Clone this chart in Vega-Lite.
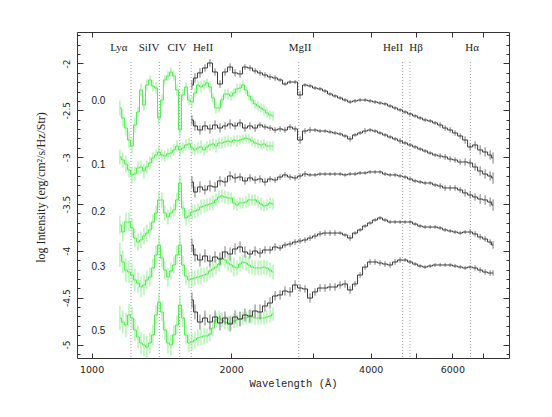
{
"$schema": "https://vega.github.io/schema/vega-lite/v6.json",
"width": 432, "height": 326,
"autosize": "none",
"padding": {"left": 77, "top": 32, "right": 43, "bottom": 59},
"background": "white",
"config": {"view": {"stroke": "#333", "strokeWidth": 1}, "axis": {"domain": false, "grid": false, "tickColor": "#333", "tickWidth": 1, "labelColor": "#222", "titleColor": "#222"}},
"resolve": {"axis": {"x": "independent", "y": "independent"}},
"datasets": {
"lines": [{"n":"Lyα","w":1216,"lw":1145},{"n":"SiIV","w":1400,"lw":1330},{"n":"CIV","w":1549,"lw":1528},{"n":"HeII","w":1640,"lw":1739},{"n":"MgII","w":2798,"lw":2816},{"n":"HeII","w":4686,"lw":4469},{"n":"Hβ","w":4861,"lw":5011},{"n":"Hα","w":6563,"lw":6618}],
"zlab": [{"z":"0.0","ly":-2.400},{"z":"0.1","ly":-3.084},{"z":"0.2","ly":-3.585},{"z":"0.3","ly":-4.173},{"z":"0.5","ly":-4.856}],
"green": [
{"z":"0.0","w":1151,"y":-2.475,"e":0.08},{"z":"0.0","w":1168,"y":-2.582,"e":0.09},{"z":"0.0","w":1186,"y":-2.689,"e":0.08},{"z":"0.0","w":1204,"y":-2.817,"e":0.09},{"z":"0.0","w":1222,"y":-2.881,"e":0.08},{"z":"0.0","w":1240,"y":-2.657,"e":0.08},{"z":"0.0","w":1259,"y":-2.518,"e":0.06},{"z":"0.0","w":1278,"y":-2.283,"e":0.07},{"z":"0.0","w":1297,"y":-2.443,"e":0.06},{"z":"0.0","w":1316,"y":-2.230,"e":0.06},{"z":"0.0","w":1336,"y":-2.176,"e":0.05},{"z":"0.0","w":1356,"y":-2.240,"e":0.06},{"z":"0.0","w":1377,"y":-2.262,"e":0.06},{"z":"0.0","w":1397,"y":-2.582,"e":0.07},{"z":"0.0","w":1418,"y":-2.390,"e":0.06},{"z":"0.0","w":1439,"y":-2.176,"e":0.05},{"z":"0.0","w":1461,"y":-2.133,"e":0.05},{"z":"0.0","w":1483,"y":-2.091,"e":0.05},{"z":"0.0","w":1505,"y":-2.133,"e":0.05},{"z":"0.0","w":1528,"y":-2.283,"e":0.06},{"z":"0.0","w":1551,"y":-2.710,"e":0.07},{"z":"0.0","w":1574,"y":-2.336,"e":0.06},{"z":"0.0","w":1598,"y":-2.251,"e":0.05},{"z":"0.0","w":1622,"y":-2.390,"e":0.06},{"z":"0.0","w":1646,"y":-2.411,"e":0.06},{"z":"0.0","w":1671,"y":-2.315,"e":0.05},{"z":"0.0","w":1696,"y":-2.230,"e":0.05},{"z":"0.0","w":1722,"y":-2.251,"e":0.06},{"z":"0.0","w":1748,"y":-2.230,"e":0.05},{"z":"0.0","w":1774,"y":-2.208,"e":0.05},{"z":"0.0","w":1800,"y":-2.251,"e":0.06},{"z":"0.0","w":1827,"y":-2.368,"e":0.05},{"z":"0.0","w":1855,"y":-2.475,"e":0.06},{"z":"0.0","w":1883,"y":-2.475,"e":0.05},{"z":"0.0","w":1911,"y":-2.390,"e":0.05},{"z":"0.0","w":1940,"y":-2.326,"e":0.05},{"z":"0.0","w":1969,"y":-2.326,"e":0.06},{"z":"0.0","w":1999,"y":-2.347,"e":0.05},{"z":"0.0","w":2028,"y":-2.315,"e":0.05},{"z":"0.0","w":2059,"y":-2.272,"e":0.06},{"z":"0.0","w":2090,"y":-2.262,"e":0.05},{"z":"0.0","w":2121,"y":-2.230,"e":0.05},{"z":"0.0","w":2153,"y":-2.283,"e":0.05},{"z":"0.0","w":2185,"y":-2.347,"e":0.05},{"z":"0.0","w":2218,"y":-2.390,"e":0.05},{"z":"0.0","w":2252,"y":-2.432,"e":0.05},{"z":"0.0","w":2285,"y":-2.454,"e":0.05},{"z":"0.0","w":2320,"y":-2.475,"e":0.05},{"z":"0.0","w":2354,"y":-2.496,"e":0.06},{"z":"0.0","w":2390,"y":-2.528,"e":0.05},{"z":"0.0","w":2426,"y":-2.550,"e":0.05},{"z":"0.0","w":2462,"y":-2.560,"e":0.05},
{"z":"0.1","w":1151,"y":-2.998,"e":0.08},{"z":"0.1","w":1168,"y":-3.030,"e":0.08},{"z":"0.1","w":1186,"y":-3.073,"e":0.09},{"z":"0.1","w":1204,"y":-3.137,"e":0.08},{"z":"0.1","w":1222,"y":-3.190,"e":0.09},{"z":"0.1","w":1240,"y":-3.180,"e":0.08},{"z":"0.1","w":1259,"y":-3.116,"e":0.07},{"z":"0.1","w":1278,"y":-3.105,"e":0.07},{"z":"0.1","w":1297,"y":-3.148,"e":0.08},{"z":"0.1","w":1316,"y":-3.105,"e":0.07},{"z":"0.1","w":1336,"y":-3.062,"e":0.07},{"z":"0.1","w":1356,"y":-3.009,"e":0.06},{"z":"0.1","w":1377,"y":-2.977,"e":0.06},{"z":"0.1","w":1397,"y":-2.945,"e":0.07},{"z":"0.1","w":1418,"y":-2.977,"e":0.06},{"z":"0.1","w":1439,"y":-2.988,"e":0.06},{"z":"0.1","w":1461,"y":-2.966,"e":0.06},{"z":"0.1","w":1483,"y":-2.956,"e":0.06},{"z":"0.1","w":1505,"y":-2.923,"e":0.06},{"z":"0.1","w":1528,"y":-2.881,"e":0.06},{"z":"0.1","w":1551,"y":-2.923,"e":0.07},{"z":"0.1","w":1574,"y":-2.902,"e":0.06},{"z":"0.1","w":1598,"y":-2.870,"e":0.06},{"z":"0.1","w":1622,"y":-2.859,"e":0.06},{"z":"0.1","w":1646,"y":-2.902,"e":0.07},{"z":"0.1","w":1671,"y":-2.923,"e":0.06},{"z":"0.1","w":1696,"y":-2.902,"e":0.06},{"z":"0.1","w":1722,"y":-2.891,"e":0.07},{"z":"0.1","w":1748,"y":-2.923,"e":0.06},{"z":"0.1","w":1774,"y":-2.891,"e":0.06},{"z":"0.1","w":1800,"y":-2.870,"e":0.06},{"z":"0.1","w":1827,"y":-2.859,"e":0.06},{"z":"0.1","w":1855,"y":-2.881,"e":0.07},{"z":"0.1","w":1883,"y":-2.849,"e":0.06},{"z":"0.1","w":1911,"y":-2.849,"e":0.06},{"z":"0.1","w":1940,"y":-2.838,"e":0.06},{"z":"0.1","w":1969,"y":-2.827,"e":0.06},{"z":"0.1","w":1999,"y":-2.838,"e":0.05},{"z":"0.1","w":2028,"y":-2.817,"e":0.05},{"z":"0.1","w":2059,"y":-2.827,"e":0.06},{"z":"0.1","w":2090,"y":-2.817,"e":0.05},{"z":"0.1","w":2121,"y":-2.806,"e":0.05},{"z":"0.1","w":2153,"y":-2.795,"e":0.05},{"z":"0.1","w":2185,"y":-2.806,"e":0.05},{"z":"0.1","w":2218,"y":-2.827,"e":0.05},{"z":"0.1","w":2252,"y":-2.849,"e":0.05},{"z":"0.1","w":2285,"y":-2.859,"e":0.05},{"z":"0.1","w":2320,"y":-2.870,"e":0.05},{"z":"0.1","w":2354,"y":-2.859,"e":0.05},{"z":"0.1","w":2390,"y":-2.881,"e":0.05},{"z":"0.1","w":2426,"y":-2.881,"e":0.05},{"z":"0.1","w":2462,"y":-2.881,"e":0.05},
{"z":"0.2","w":1151,"y":-3.724,"e":0.1},{"z":"0.2","w":1168,"y":-3.799,"e":0.1},{"z":"0.2","w":1186,"y":-3.692,"e":0.1},{"z":"0.2","w":1204,"y":-3.692,"e":0.1},{"z":"0.2","w":1222,"y":-3.756,"e":0.1},{"z":"0.2","w":1240,"y":-3.863,"e":0.1},{"z":"0.2","w":1259,"y":-3.906,"e":0.09},{"z":"0.2","w":1278,"y":-3.884,"e":0.09},{"z":"0.2","w":1297,"y":-3.842,"e":0.09},{"z":"0.2","w":1316,"y":-3.810,"e":0.09},{"z":"0.2","w":1336,"y":-3.777,"e":0.08},{"z":"0.2","w":1356,"y":-3.692,"e":0.08},{"z":"0.2","w":1377,"y":-3.596,"e":0.08},{"z":"0.2","w":1397,"y":-3.457,"e":0.09},{"z":"0.2","w":1418,"y":-3.457,"e":0.08},{"z":"0.2","w":1439,"y":-3.596,"e":0.08},{"z":"0.2","w":1461,"y":-3.639,"e":0.08},{"z":"0.2","w":1483,"y":-3.596,"e":0.07},{"z":"0.2","w":1505,"y":-3.564,"e":0.07},{"z":"0.2","w":1528,"y":-3.457,"e":0.08},{"z":"0.2","w":1551,"y":-3.276,"e":0.09},{"z":"0.2","w":1574,"y":-3.543,"e":0.08},{"z":"0.2","w":1598,"y":-3.649,"e":0.08},{"z":"0.2","w":1622,"y":-3.628,"e":0.07},{"z":"0.2","w":1646,"y":-3.585,"e":0.08},{"z":"0.2","w":1671,"y":-3.575,"e":0.07},{"z":"0.2","w":1696,"y":-3.564,"e":0.07},{"z":"0.2","w":1722,"y":-3.532,"e":0.08},{"z":"0.2","w":1748,"y":-3.521,"e":0.07},{"z":"0.2","w":1774,"y":-3.511,"e":0.07},{"z":"0.2","w":1800,"y":-3.500,"e":0.07},{"z":"0.2","w":1827,"y":-3.489,"e":0.08},{"z":"0.2","w":1855,"y":-3.457,"e":0.07},{"z":"0.2","w":1883,"y":-3.425,"e":0.07},{"z":"0.2","w":1911,"y":-3.414,"e":0.07},{"z":"0.2","w":1940,"y":-3.425,"e":0.07},{"z":"0.2","w":1969,"y":-3.436,"e":0.07},{"z":"0.2","w":1999,"y":-3.436,"e":0.06},{"z":"0.2","w":2028,"y":-3.489,"e":0.07},{"z":"0.2","w":2059,"y":-3.511,"e":0.06},{"z":"0.2","w":2090,"y":-3.489,"e":0.06},{"z":"0.2","w":2121,"y":-3.489,"e":0.06},{"z":"0.2","w":2153,"y":-3.479,"e":0.06},{"z":"0.2","w":2185,"y":-3.457,"e":0.07},{"z":"0.2","w":2218,"y":-3.457,"e":0.06},{"z":"0.2","w":2252,"y":-3.457,"e":0.06},{"z":"0.2","w":2285,"y":-3.479,"e":0.06},{"z":"0.2","w":2320,"y":-3.500,"e":0.07},{"z":"0.2","w":2354,"y":-3.521,"e":0.06},{"z":"0.2","w":2390,"y":-3.511,"e":0.06},{"z":"0.2","w":2426,"y":-3.489,"e":0.06},{"z":"0.2","w":2462,"y":-3.500,"e":0.06},
{"z":"0.3","w":1151,"y":-4.044,"e":0.13},{"z":"0.3","w":1168,"y":-4.119,"e":0.12},{"z":"0.3","w":1186,"y":-4.205,"e":0.13},{"z":"0.3","w":1204,"y":-4.226,"e":0.12},{"z":"0.3","w":1222,"y":-4.258,"e":0.12},{"z":"0.3","w":1240,"y":-4.311,"e":0.12},{"z":"0.3","w":1259,"y":-4.343,"e":0.11},{"z":"0.3","w":1278,"y":-4.386,"e":0.11},{"z":"0.3","w":1297,"y":-4.365,"e":0.11},{"z":"0.3","w":1316,"y":-4.311,"e":0.1},{"z":"0.3","w":1336,"y":-4.279,"e":0.1},{"z":"0.3","w":1356,"y":-4.183,"e":0.1},{"z":"0.3","w":1377,"y":-4.044,"e":0.1},{"z":"0.3","w":1397,"y":-3.938,"e":0.11},{"z":"0.3","w":1418,"y":-4.077,"e":0.1},{"z":"0.3","w":1439,"y":-4.205,"e":0.1},{"z":"0.3","w":1461,"y":-4.279,"e":0.1},{"z":"0.3","w":1483,"y":-4.215,"e":0.09},{"z":"0.3","w":1505,"y":-4.151,"e":0.09},{"z":"0.3","w":1528,"y":-4.044,"e":0.1},{"z":"0.3","w":1551,"y":-3.938,"e":0.11},{"z":"0.3","w":1574,"y":-4.151,"e":0.1},{"z":"0.3","w":1598,"y":-4.269,"e":0.09},{"z":"0.3","w":1622,"y":-4.311,"e":0.09},{"z":"0.3","w":1646,"y":-4.301,"e":0.09},{"z":"0.3","w":1671,"y":-4.290,"e":0.08},{"z":"0.3","w":1696,"y":-4.279,"e":0.08},{"z":"0.3","w":1722,"y":-4.269,"e":0.09},{"z":"0.3","w":1748,"y":-4.258,"e":0.08},{"z":"0.3","w":1774,"y":-4.247,"e":0.08},{"z":"0.3","w":1800,"y":-4.215,"e":0.08},{"z":"0.3","w":1827,"y":-4.194,"e":0.09},{"z":"0.3","w":1855,"y":-4.173,"e":0.08},{"z":"0.3","w":1883,"y":-4.141,"e":0.08},{"z":"0.3","w":1911,"y":-4.077,"e":0.08},{"z":"0.3","w":1940,"y":-4.098,"e":0.08},{"z":"0.3","w":1969,"y":-4.130,"e":0.09},{"z":"0.3","w":1999,"y":-4.151,"e":0.08},{"z":"0.3","w":2028,"y":-4.173,"e":0.1},{"z":"0.3","w":2059,"y":-4.183,"e":0.08},{"z":"0.3","w":2090,"y":-4.141,"e":0.08},{"z":"0.3","w":2121,"y":-4.119,"e":0.08},{"z":"0.3","w":2153,"y":-4.130,"e":0.08},{"z":"0.3","w":2185,"y":-4.151,"e":0.09},{"z":"0.3","w":2218,"y":-4.173,"e":0.08},{"z":"0.3","w":2252,"y":-4.183,"e":0.08},{"z":"0.3","w":2285,"y":-4.183,"e":0.08},{"z":"0.3","w":2320,"y":-4.183,"e":0.08},{"z":"0.3","w":2354,"y":-4.173,"e":0.08},{"z":"0.3","w":2390,"y":-4.183,"e":0.08},{"z":"0.3","w":2426,"y":-4.205,"e":0.08},{"z":"0.3","w":2462,"y":-4.226,"e":0.08},
{"z":"0.5","w":1151,"y":-4.717,"e":0.13},{"z":"0.5","w":1168,"y":-4.760,"e":0.12},{"z":"0.5","w":1186,"y":-4.792,"e":0.13},{"z":"0.5","w":1204,"y":-4.685,"e":0.12},{"z":"0.5","w":1222,"y":-4.717,"e":0.12},{"z":"0.5","w":1240,"y":-4.845,"e":0.12},{"z":"0.5","w":1259,"y":-4.920,"e":0.12},{"z":"0.5","w":1278,"y":-4.984,"e":0.12},{"z":"0.5","w":1297,"y":-5.005,"e":0.12},{"z":"0.5","w":1316,"y":-5.027,"e":0.12},{"z":"0.5","w":1336,"y":-4.984,"e":0.11},{"z":"0.5","w":1356,"y":-4.898,"e":0.11},{"z":"0.5","w":1377,"y":-4.685,"e":0.1},{"z":"0.5","w":1397,"y":-4.546,"e":0.1},{"z":"0.5","w":1418,"y":-4.653,"e":0.1},{"z":"0.5","w":1439,"y":-4.845,"e":0.1},{"z":"0.5","w":1461,"y":-4.984,"e":0.11},{"z":"0.5","w":1483,"y":-5.005,"e":0.11},{"z":"0.5","w":1505,"y":-4.898,"e":0.1},{"z":"0.5","w":1528,"y":-4.792,"e":0.1},{"z":"0.5","w":1551,"y":-4.578,"e":0.1},{"z":"0.5","w":1574,"y":-4.717,"e":0.1},{"z":"0.5","w":1598,"y":-4.898,"e":0.1},{"z":"0.5","w":1622,"y":-4.984,"e":0.1},{"z":"0.5","w":1646,"y":-4.973,"e":0.09},{"z":"0.5","w":1671,"y":-4.952,"e":0.09},{"z":"0.5","w":1696,"y":-4.930,"e":0.09},{"z":"0.5","w":1722,"y":-4.920,"e":0.09},{"z":"0.5","w":1748,"y":-4.909,"e":0.09},{"z":"0.5","w":1774,"y":-4.909,"e":0.08},{"z":"0.5","w":1800,"y":-4.888,"e":0.08},{"z":"0.5","w":1827,"y":-4.824,"e":0.08},{"z":"0.5","w":1855,"y":-4.738,"e":0.08},{"z":"0.5","w":1883,"y":-4.717,"e":0.08},{"z":"0.5","w":1911,"y":-4.738,"e":0.08},{"z":"0.5","w":1940,"y":-4.760,"e":0.08},{"z":"0.5","w":1969,"y":-4.770,"e":0.08},{"z":"0.5","w":1999,"y":-4.770,"e":0.08},{"z":"0.5","w":2028,"y":-4.749,"e":0.08},{"z":"0.5","w":2059,"y":-4.738,"e":0.07},{"z":"0.5","w":2090,"y":-4.728,"e":0.07},{"z":"0.5","w":2121,"y":-4.717,"e":0.07},{"z":"0.5","w":2153,"y":-4.717,"e":0.07},{"z":"0.5","w":2185,"y":-4.706,"e":0.07},{"z":"0.5","w":2218,"y":-4.706,"e":0.07},{"z":"0.5","w":2252,"y":-4.717,"e":0.07},{"z":"0.5","w":2285,"y":-4.717,"e":0.07},{"z":"0.5","w":2320,"y":-4.717,"e":0.07},{"z":"0.5","w":2354,"y":-4.717,"e":0.07},{"z":"0.5","w":2390,"y":-4.706,"e":0.07},{"z":"0.5","w":2426,"y":-4.696,"e":0.07},{"z":"0.5","w":2462,"y":-4.674,"e":0.07}
],
"black": [
{"z":"0.0","w":1646,"y":-2.230,"e":0.05},{"z":"0.0","w":1671,"y":-2.155,"e":0.05},{"z":"0.0","w":1713,"y":-2.101,"e":0.05},{"z":"0.0","w":1756,"y":-2.048,"e":0.04},{"z":"0.0","w":1800,"y":-1.995,"e":0.04},{"z":"0.0","w":1846,"y":-2.091,"e":0.04},{"z":"0.0","w":1892,"y":-2.219,"e":0.04},{"z":"0.0","w":1940,"y":-2.091,"e":0.04},{"z":"0.0","w":1989,"y":-2.038,"e":0.04},{"z":"0.0","w":2039,"y":-2.101,"e":0.04},{"z":"0.0","w":2090,"y":-2.112,"e":0.04},{"z":"0.0","w":2142,"y":-2.038,"e":0.03},{"z":"0.0","w":2196,"y":-2.048,"e":0.03},{"z":"0.0","w":2252,"y":-2.080,"e":0.03},{"z":"0.0","w":2308,"y":-2.101,"e":0.03},{"z":"0.0","w":2366,"y":-2.123,"e":0.03},{"z":"0.0","w":2426,"y":-2.144,"e":0.03},{"z":"0.0","w":2487,"y":-2.155,"e":0.03},{"z":"0.0","w":2550,"y":-2.176,"e":0.02},{"z":"0.0","w":2613,"y":-2.219,"e":0.02},{"z":"0.0","w":2679,"y":-2.198,"e":0.02},{"z":"0.0","w":2747,"y":-2.198,"e":0.02},{"z":"0.0","w":2816,"y":-2.336,"e":0.04},{"z":"0.0","w":2886,"y":-2.230,"e":0.02},{"z":"0.0","w":2959,"y":-2.240,"e":0.02},{"z":"0.0","w":3033,"y":-2.262,"e":0.02},{"z":"0.0","w":3110,"y":-2.272,"e":0.02},{"z":"0.0","w":3188,"y":-2.294,"e":0.02},{"z":"0.0","w":3268,"y":-2.326,"e":0.02},{"z":"0.0","w":3350,"y":-2.347,"e":0.02},{"z":"0.0","w":3435,"y":-2.368,"e":0.02},{"z":"0.0","w":3521,"y":-2.390,"e":0.02},{"z":"0.0","w":3610,"y":-2.411,"e":0.02},{"z":"0.0","w":3700,"y":-2.400,"e":0.02},{"z":"0.0","w":3794,"y":-2.390,"e":0.02},{"z":"0.0","w":3889,"y":-2.390,"e":0.02},{"z":"0.0","w":3987,"y":-2.400,"e":0.02},{"z":"0.0","w":4087,"y":-2.411,"e":0.02},{"z":"0.0","w":4190,"y":-2.422,"e":0.02},{"z":"0.0","w":4295,"y":-2.432,"e":0.02},{"z":"0.0","w":4404,"y":-2.454,"e":0.02},{"z":"0.0","w":4514,"y":-2.475,"e":0.02},{"z":"0.0","w":4628,"y":-2.496,"e":0.02},{"z":"0.0","w":4744,"y":-2.518,"e":0.02},{"z":"0.0","w":4864,"y":-2.539,"e":0.02},{"z":"0.0","w":4986,"y":-2.560,"e":0.02},{"z":"0.0","w":5112,"y":-2.582,"e":0.02},{"z":"0.0","w":5240,"y":-2.603,"e":0.02},{"z":"0.0","w":5373,"y":-2.614,"e":0.02},{"z":"0.0","w":5507,"y":-2.635,"e":0.02},{"z":"0.0","w":5646,"y":-2.657,"e":0.03},{"z":"0.0","w":5788,"y":-2.689,"e":0.03},{"z":"0.0","w":5934,"y":-2.710,"e":0.03},{"z":"0.0","w":6081,"y":-2.742,"e":0.03},{"z":"0.0","w":6237,"y":-2.774,"e":0.03},{"z":"0.0","w":6392,"y":-2.817,"e":0.04},{"z":"0.0","w":6554,"y":-2.891,"e":0.04},{"z":"0.0","w":6717,"y":-2.870,"e":0.04},{"z":"0.0","w":6888,"y":-2.923,"e":0.05},{"z":"0.0","w":7060,"y":-2.945,"e":0.05},{"z":"0.0","w":7239,"y":-2.977,"e":0.05},{"z":"0.0","w":7345,"y":-3.009,"e":0.06},
{"z":"0.1","w":1646,"y":-2.603,"e":0.05},{"z":"0.1","w":1671,"y":-2.667,"e":0.05},{"z":"0.1","w":1713,"y":-2.710,"e":0.05},{"z":"0.1","w":1756,"y":-2.667,"e":0.05},{"z":"0.1","w":1800,"y":-2.699,"e":0.05},{"z":"0.1","w":1846,"y":-2.657,"e":0.05},{"z":"0.1","w":1892,"y":-2.689,"e":0.05},{"z":"0.1","w":1940,"y":-2.667,"e":0.04},{"z":"0.1","w":1989,"y":-2.646,"e":0.05},{"z":"0.1","w":2039,"y":-2.667,"e":0.04},{"z":"0.1","w":2090,"y":-2.635,"e":0.04},{"z":"0.1","w":2142,"y":-2.689,"e":0.04},{"z":"0.1","w":2196,"y":-2.667,"e":0.04},{"z":"0.1","w":2252,"y":-2.689,"e":0.04},{"z":"0.1","w":2308,"y":-2.657,"e":0.03},{"z":"0.1","w":2366,"y":-2.678,"e":0.03},{"z":"0.1","w":2426,"y":-2.689,"e":0.03},{"z":"0.1","w":2487,"y":-2.710,"e":0.03},{"z":"0.1","w":2550,"y":-2.699,"e":0.03},{"z":"0.1","w":2613,"y":-2.710,"e":0.03},{"z":"0.1","w":2679,"y":-2.678,"e":0.03},{"z":"0.1","w":2747,"y":-2.699,"e":0.03},{"z":"0.1","w":2816,"y":-2.817,"e":0.04},{"z":"0.1","w":2886,"y":-2.721,"e":0.03},{"z":"0.1","w":2959,"y":-2.710,"e":0.03},{"z":"0.1","w":3033,"y":-2.710,"e":0.02},{"z":"0.1","w":3110,"y":-2.721,"e":0.02},{"z":"0.1","w":3188,"y":-2.721,"e":0.02},{"z":"0.1","w":3268,"y":-2.731,"e":0.02},{"z":"0.1","w":3350,"y":-2.742,"e":0.02},{"z":"0.1","w":3435,"y":-2.753,"e":0.02},{"z":"0.1","w":3521,"y":-2.774,"e":0.02},{"z":"0.1","w":3610,"y":-2.806,"e":0.03},{"z":"0.1","w":3700,"y":-2.763,"e":0.02},{"z":"0.1","w":3794,"y":-2.742,"e":0.02},{"z":"0.1","w":3889,"y":-2.721,"e":0.03},{"z":"0.1","w":3987,"y":-2.710,"e":0.02},{"z":"0.1","w":4087,"y":-2.721,"e":0.02},{"z":"0.1","w":4190,"y":-2.742,"e":0.02},{"z":"0.1","w":4295,"y":-2.763,"e":0.02},{"z":"0.1","w":4404,"y":-2.785,"e":0.02},{"z":"0.1","w":4514,"y":-2.806,"e":0.02},{"z":"0.1","w":4628,"y":-2.827,"e":0.03},{"z":"0.1","w":4744,"y":-2.849,"e":0.02},{"z":"0.1","w":4864,"y":-2.870,"e":0.02},{"z":"0.1","w":4986,"y":-2.891,"e":0.02},{"z":"0.1","w":5112,"y":-2.913,"e":0.02},{"z":"0.1","w":5240,"y":-2.934,"e":0.02},{"z":"0.1","w":5373,"y":-2.956,"e":0.02},{"z":"0.1","w":5507,"y":-2.977,"e":0.02},{"z":"0.1","w":5646,"y":-2.988,"e":0.03},{"z":"0.1","w":5788,"y":-2.998,"e":0.03},{"z":"0.1","w":5934,"y":-3.020,"e":0.03},{"z":"0.1","w":6081,"y":-3.030,"e":0.03},{"z":"0.1","w":6237,"y":-3.052,"e":0.03},{"z":"0.1","w":6392,"y":-3.052,"e":0.04},{"z":"0.1","w":6554,"y":-3.062,"e":0.04},{"z":"0.1","w":6717,"y":-3.105,"e":0.04},{"z":"0.1","w":6888,"y":-3.148,"e":0.05},{"z":"0.1","w":7060,"y":-3.180,"e":0.05},{"z":"0.1","w":7239,"y":-3.201,"e":0.05},{"z":"0.1","w":7345,"y":-3.222,"e":0.06},
{"z":"0.2","w":1646,"y":-3.265,"e":0.06},{"z":"0.2","w":1671,"y":-3.372,"e":0.06},{"z":"0.2","w":1713,"y":-3.318,"e":0.06},{"z":"0.2","w":1756,"y":-3.350,"e":0.05},{"z":"0.2","w":1800,"y":-3.308,"e":0.06},{"z":"0.2","w":1846,"y":-3.318,"e":0.05},{"z":"0.2","w":1892,"y":-3.254,"e":0.05},{"z":"0.2","w":1940,"y":-3.265,"e":0.05},{"z":"0.2","w":1989,"y":-3.201,"e":0.05},{"z":"0.2","w":2039,"y":-3.222,"e":0.05},{"z":"0.2","w":2090,"y":-3.212,"e":0.04},{"z":"0.2","w":2142,"y":-3.254,"e":0.04},{"z":"0.2","w":2196,"y":-3.222,"e":0.04},{"z":"0.2","w":2252,"y":-3.244,"e":0.04},{"z":"0.2","w":2308,"y":-3.233,"e":0.04},{"z":"0.2","w":2366,"y":-3.265,"e":0.04},{"z":"0.2","w":2426,"y":-3.233,"e":0.03},{"z":"0.2","w":2487,"y":-3.244,"e":0.03},{"z":"0.2","w":2550,"y":-3.212,"e":0.03},{"z":"0.2","w":2613,"y":-3.190,"e":0.03},{"z":"0.2","w":2679,"y":-3.212,"e":0.03},{"z":"0.2","w":2747,"y":-3.222,"e":0.03},{"z":"0.2","w":2816,"y":-3.201,"e":0.03},{"z":"0.2","w":2886,"y":-3.180,"e":0.03},{"z":"0.2","w":2959,"y":-3.190,"e":0.02},{"z":"0.2","w":3033,"y":-3.190,"e":0.02},{"z":"0.2","w":3110,"y":-3.180,"e":0.02},{"z":"0.2","w":3188,"y":-3.180,"e":0.02},{"z":"0.2","w":3268,"y":-3.180,"e":0.02},{"z":"0.2","w":3350,"y":-3.180,"e":0.02},{"z":"0.2","w":3435,"y":-3.180,"e":0.02},{"z":"0.2","w":3521,"y":-3.190,"e":0.02},{"z":"0.2","w":3610,"y":-3.180,"e":0.02},{"z":"0.2","w":3700,"y":-3.180,"e":0.02},{"z":"0.2","w":3794,"y":-3.169,"e":0.02},{"z":"0.2","w":3889,"y":-3.169,"e":0.02},{"z":"0.2","w":3987,"y":-3.158,"e":0.02},{"z":"0.2","w":4087,"y":-3.158,"e":0.02},{"z":"0.2","w":4190,"y":-3.158,"e":0.02},{"z":"0.2","w":4295,"y":-3.180,"e":0.02},{"z":"0.2","w":4404,"y":-3.190,"e":0.02},{"z":"0.2","w":4514,"y":-3.190,"e":0.02},{"z":"0.2","w":4628,"y":-3.201,"e":0.02},{"z":"0.2","w":4744,"y":-3.212,"e":0.02},{"z":"0.2","w":4864,"y":-3.233,"e":0.02},{"z":"0.2","w":4986,"y":-3.254,"e":0.02},{"z":"0.2","w":5112,"y":-3.265,"e":0.02},{"z":"0.2","w":5240,"y":-3.276,"e":0.02},{"z":"0.2","w":5373,"y":-3.276,"e":0.02},{"z":"0.2","w":5507,"y":-3.297,"e":0.02},{"z":"0.2","w":5646,"y":-3.308,"e":0.03},{"z":"0.2","w":5788,"y":-3.329,"e":0.03},{"z":"0.2","w":5934,"y":-3.329,"e":0.03},{"z":"0.2","w":6081,"y":-3.329,"e":0.03},{"z":"0.2","w":6237,"y":-3.350,"e":0.03},{"z":"0.2","w":6392,"y":-3.382,"e":0.04},{"z":"0.2","w":6554,"y":-3.404,"e":0.04},{"z":"0.2","w":6717,"y":-3.425,"e":0.04},{"z":"0.2","w":6888,"y":-3.447,"e":0.05},{"z":"0.2","w":7060,"y":-3.457,"e":0.05},{"z":"0.2","w":7239,"y":-3.479,"e":0.05},{"z":"0.2","w":7345,"y":-3.511,"e":0.06},
{"z":"0.3","w":1646,"y":-3.938,"e":0.07},{"z":"0.3","w":1671,"y":-4.044,"e":0.07},{"z":"0.3","w":1713,"y":-4.098,"e":0.07},{"z":"0.3","w":1756,"y":-4.055,"e":0.07},{"z":"0.3","w":1800,"y":-4.109,"e":0.06},{"z":"0.3","w":1846,"y":-4.066,"e":0.06},{"z":"0.3","w":1892,"y":-4.087,"e":0.07},{"z":"0.3","w":1940,"y":-4.012,"e":0.06},{"z":"0.3","w":1989,"y":-4.034,"e":0.07},{"z":"0.3","w":2039,"y":-3.980,"e":0.06},{"z":"0.3","w":2090,"y":-3.959,"e":0.06},{"z":"0.3","w":2142,"y":-4.012,"e":0.06},{"z":"0.3","w":2196,"y":-4.034,"e":0.05},{"z":"0.3","w":2252,"y":-4.002,"e":0.05},{"z":"0.3","w":2308,"y":-4.023,"e":0.05},{"z":"0.3","w":2366,"y":-3.991,"e":0.04},{"z":"0.3","w":2426,"y":-3.991,"e":0.04},{"z":"0.3","w":2487,"y":-3.959,"e":0.04},{"z":"0.3","w":2550,"y":-3.970,"e":0.03},{"z":"0.3","w":2613,"y":-3.938,"e":0.03},{"z":"0.3","w":2679,"y":-3.927,"e":0.03},{"z":"0.3","w":2747,"y":-3.906,"e":0.03},{"z":"0.3","w":2816,"y":-3.895,"e":0.03},{"z":"0.3","w":2886,"y":-3.884,"e":0.03},{"z":"0.3","w":2959,"y":-3.863,"e":0.03},{"z":"0.3","w":3033,"y":-3.842,"e":0.03},{"z":"0.3","w":3110,"y":-3.820,"e":0.03},{"z":"0.3","w":3188,"y":-3.810,"e":0.03},{"z":"0.3","w":3268,"y":-3.810,"e":0.03},{"z":"0.3","w":3350,"y":-3.810,"e":0.03},{"z":"0.3","w":3435,"y":-3.810,"e":0.02},{"z":"0.3","w":3521,"y":-3.831,"e":0.02},{"z":"0.3","w":3610,"y":-3.863,"e":0.03},{"z":"0.3","w":3700,"y":-3.810,"e":0.02},{"z":"0.3","w":3794,"y":-3.777,"e":0.02},{"z":"0.3","w":3889,"y":-3.735,"e":0.02},{"z":"0.3","w":3987,"y":-3.703,"e":0.02},{"z":"0.3","w":4087,"y":-3.671,"e":0.02},{"z":"0.3","w":4190,"y":-3.649,"e":0.02},{"z":"0.3","w":4295,"y":-3.671,"e":0.02},{"z":"0.3","w":4404,"y":-3.692,"e":0.02},{"z":"0.3","w":4514,"y":-3.692,"e":0.02},{"z":"0.3","w":4628,"y":-3.692,"e":0.02},{"z":"0.3","w":4744,"y":-3.692,"e":0.02},{"z":"0.3","w":4864,"y":-3.692,"e":0.02},{"z":"0.3","w":4986,"y":-3.714,"e":0.02},{"z":"0.3","w":5112,"y":-3.735,"e":0.02},{"z":"0.3","w":5240,"y":-3.746,"e":0.02},{"z":"0.3","w":5373,"y":-3.746,"e":0.02},{"z":"0.3","w":5507,"y":-3.746,"e":0.02},{"z":"0.3","w":5646,"y":-3.756,"e":0.02},{"z":"0.3","w":5788,"y":-3.777,"e":0.02},{"z":"0.3","w":5934,"y":-3.788,"e":0.02},{"z":"0.3","w":6081,"y":-3.799,"e":0.02},{"z":"0.3","w":6237,"y":-3.810,"e":0.02},{"z":"0.3","w":6392,"y":-3.799,"e":0.02},{"z":"0.3","w":6554,"y":-3.799,"e":0.03},{"z":"0.3","w":6717,"y":-3.820,"e":0.03},{"z":"0.3","w":6888,"y":-3.852,"e":0.03},{"z":"0.3","w":7060,"y":-3.874,"e":0.03},{"z":"0.3","w":7239,"y":-3.906,"e":0.03},{"z":"0.3","w":7345,"y":-3.938,"e":0.04},
{"z":"0.5","w":1646,"y":-4.525,"e":0.08},{"z":"0.5","w":1671,"y":-4.653,"e":0.08},{"z":"0.5","w":1713,"y":-4.760,"e":0.08},{"z":"0.5","w":1756,"y":-4.717,"e":0.08},{"z":"0.5","w":1800,"y":-4.760,"e":0.08},{"z":"0.5","w":1846,"y":-4.706,"e":0.07},{"z":"0.5","w":1892,"y":-4.770,"e":0.08},{"z":"0.5","w":1940,"y":-4.717,"e":0.07},{"z":"0.5","w":1989,"y":-4.781,"e":0.08},{"z":"0.5","w":2039,"y":-4.706,"e":0.07},{"z":"0.5","w":2090,"y":-4.728,"e":0.08},{"z":"0.5","w":2142,"y":-4.685,"e":0.07},{"z":"0.5","w":2196,"y":-4.696,"e":0.07},{"z":"0.5","w":2252,"y":-4.642,"e":0.07},{"z":"0.5","w":2308,"y":-4.653,"e":0.08},{"z":"0.5","w":2366,"y":-4.589,"e":0.06},{"z":"0.5","w":2426,"y":-4.557,"e":0.06},{"z":"0.5","w":2487,"y":-4.482,"e":0.05},{"z":"0.5","w":2550,"y":-4.471,"e":0.05},{"z":"0.5","w":2613,"y":-4.429,"e":0.05},{"z":"0.5","w":2679,"y":-4.439,"e":0.05},{"z":"0.5","w":2747,"y":-4.365,"e":0.05},{"z":"0.5","w":2816,"y":-4.397,"e":0.04},{"z":"0.5","w":2886,"y":-4.407,"e":0.04},{"z":"0.5","w":2959,"y":-4.504,"e":0.05},{"z":"0.5","w":3033,"y":-4.439,"e":0.04},{"z":"0.5","w":3110,"y":-4.397,"e":0.04},{"z":"0.5","w":3188,"y":-4.397,"e":0.04},{"z":"0.5","w":3268,"y":-4.386,"e":0.04},{"z":"0.5","w":3350,"y":-4.386,"e":0.04},{"z":"0.5","w":3435,"y":-4.365,"e":0.04},{"z":"0.5","w":3521,"y":-4.354,"e":0.04},{"z":"0.5","w":3610,"y":-4.418,"e":0.04},{"z":"0.5","w":3700,"y":-4.354,"e":0.03},{"z":"0.5","w":3794,"y":-4.258,"e":0.03},{"z":"0.5","w":3889,"y":-4.173,"e":0.03},{"z":"0.5","w":3987,"y":-4.119,"e":0.03},{"z":"0.5","w":4087,"y":-4.119,"e":0.03},{"z":"0.5","w":4190,"y":-4.130,"e":0.03},{"z":"0.5","w":4295,"y":-4.141,"e":0.03},{"z":"0.5","w":4404,"y":-4.151,"e":0.03},{"z":"0.5","w":4514,"y":-4.119,"e":0.03},{"z":"0.5","w":4628,"y":-4.098,"e":0.03},{"z":"0.5","w":4744,"y":-4.098,"e":0.02},{"z":"0.5","w":4864,"y":-4.119,"e":0.02},{"z":"0.5","w":4986,"y":-4.141,"e":0.02},{"z":"0.5","w":5112,"y":-4.162,"e":0.02},{"z":"0.5","w":5240,"y":-4.173,"e":0.02},{"z":"0.5","w":5373,"y":-4.162,"e":0.02},{"z":"0.5","w":5507,"y":-4.151,"e":0.02},{"z":"0.5","w":5646,"y":-4.151,"e":0.02},{"z":"0.5","w":5788,"y":-4.151,"e":0.02},{"z":"0.5","w":5934,"y":-4.151,"e":0.02},{"z":"0.5","w":6081,"y":-4.162,"e":0.02},{"z":"0.5","w":6237,"y":-4.173,"e":0.02},{"z":"0.5","w":6392,"y":-4.183,"e":0.02},{"z":"0.5","w":6554,"y":-4.173,"e":0.02},{"z":"0.5","w":6717,"y":-4.183,"e":0.03},{"z":"0.5","w":6888,"y":-4.205,"e":0.03},{"z":"0.5","w":7060,"y":-4.226,"e":0.03},{"z":"0.5","w":7239,"y":-4.237,"e":0.03},{"z":"0.5","w":7345,"y":-4.237,"e":0.03}
]
},
"layer": [
{"data": {"name": "lines"}, "mark": {"type": "rule", "color": "#999", "strokeDash": [1, 2], "strokeWidth": 1},
 "encoding": {"x": {"field": "w", "type": "quantitative", "scale": {"type": "log", "domain": [930, 7950], "nice": false}, "axis": null},
  "y": {"datum": -1.984, "type": "quantitative", "scale": {"domain": [-5.144, -1.664], "nice": false, "zero": false}, "axis": null},
  "y2": {"datum": -5.144}}},
{"data": {"name": "green"}, "mark": {"type": "errorbar", "color": "#8ef08e", "thickness": 1},
 "encoding": {"x": {"field": "w", "type": "quantitative", "scale": {"type": "log", "domain": [930, 7950], "nice": false}, "axis": null},
  "y": {"field": "y", "type": "quantitative", "scale": {"domain": [-5.144, -1.664], "nice": false, "zero": false}, "axis": null},
  "yError": {"field": "e"}}},
{"data": {"name": "green"}, "mark": {"type": "line", "interpolate": "step", "color": "#55e855", "strokeWidth": 1},
 "encoding": {"x": {"field": "w", "type": "quantitative", "scale": {"type": "log", "domain": [930, 7950], "nice": false},
   "axis": {"orient": "bottom", "values": [1000, 2000, 3000, 4000, 5000, 6000, 7000], "labelExpr": "indexof([1000,2000,4000,6000], datum.value) >= 0 ? datum.value + '' : ''", "tickSize": -5, "labelPadding": 11, "labelFont": "DejaVu Sans", "labelFontSize": 9.5, "labelOverlap": false, "labelFlush": false, "labelBound": false,
    "title": "Wavelength (Å)", "titleFont": "Liberation Mono", "titleFontSize": 10.5, "titleFontWeight": "normal", "titleX": 216, "titleY": 25, "titleAlign": "center", "titleBaseline": "middle"}},
  "y": {"field": "y", "type": "quantitative", "scale": {"domain": [-5.144, -1.664], "nice": false, "zero": false},
   "axis": {"orient": "left", "values": [-5.1,-5,-4.9,-4.8,-4.7,-4.6,-4.5,-4.4,-4.3,-4.2,-4.1,-4,-3.9,-3.8,-3.7,-3.6,-3.5,-3.4,-3.3,-3.2,-3.1,-3,-2.9,-2.8,-2.7,-2.6,-2.5,-2.4,-2.3,-2.2,-2.1,-2,-1.9,-1.8,-1.7],
    "labelExpr": "abs(datum.value*2 - round(datum.value*2)) < 0.01 ? datum.value + '' : ''",
    "tickSize": {"condition": {"test": "abs(datum.value*2 - round(datum.value*2)) < 0.01", "value": -6}, "value": -3},
    "labelAngle": -90, "labelAlign": "center", "labelBaseline": "bottom", "labelPadding": 12, "labelFont": "DejaVu Sans", "labelFontSize": 9, "labelOverlap": false, "labelFlush": false, "labelBound": false,
    "title": "log Intensity (erg/cm²/s/Hz/Str)", "titleFont": "Liberation Serif", "titleFontSize": 12, "titleFontWeight": "normal", "titleAngle": -90, "titleX": -37, "titleY": 155, "titleAlign": "center", "titleBaseline": "middle"}},
  "detail": {"field": "z"}}},
{"data": {"name": "black"}, "mark": {"type": "errorbar", "color": "#7a7a7a", "thickness": 1},
 "encoding": {"x": {"field": "w", "type": "quantitative", "scale": {"type": "log", "domain": [930, 7950], "nice": false}, "axis": null},
  "y": {"field": "y", "type": "quantitative", "scale": {"domain": [-5.144, -1.664], "nice": false, "zero": false}, "axis": null},
  "yError": {"field": "e"}}},
{"data": {"name": "black"}, "mark": {"type": "line", "interpolate": "step", "color": "#3a3a3a", "strokeWidth": 1},
 "encoding": {"x": {"field": "w", "type": "quantitative", "scale": {"type": "log", "domain": [930, 7950], "nice": false},
   "axis": {"orient": "top", "values": [1000, 2000, 3000, 4000, 5000, 6000, 7000], "labels": false, "tickSize": -5, "title": null}},
  "y": {"field": "y", "type": "quantitative", "scale": {"domain": [-5.144, -1.664], "nice": false, "zero": false},
   "axis": {"orient": "right", "values": [-5.1,-5,-4.9,-4.8,-4.7,-4.6,-4.5,-4.4,-4.3,-4.2,-4.1,-4,-3.9,-3.8,-3.7,-3.6,-3.5,-3.4,-3.3,-3.2,-3.1,-3,-2.9,-2.8,-2.7,-2.6,-2.5,-2.4,-2.3,-2.2,-2.1,-2,-1.9,-1.8,-1.7], "labels": false,
    "tickSize": {"condition": {"test": "abs(datum.value*2 - round(datum.value*2)) < 0.01", "value": -6}, "value": -3}, "title": null}},
  "detail": {"field": "z"}}},
{"data": {"name": "lines"}, "mark": {"type": "text", "font": "Liberation Serif", "fontSize": 11, "color": "#222", "baseline": "middle"},
 "encoding": {"x": {"field": "lw", "type": "quantitative", "scale": {"type": "log", "domain": [930, 7950], "nice": false}, "axis": null},
  "y": {"datum": -1.834, "type": "quantitative", "scale": {"domain": [-5.144, -1.664], "nice": false, "zero": false}, "axis": null},
  "text": {"field": "n"}}},
{"data": {"name": "zlab"}, "mark": {"type": "text", "font": "Liberation Sans", "fontSize": 10, "color": "#222", "baseline": "middle"},
 "encoding": {"x": {"datum": 1034, "type": "quantitative", "scale": {"type": "log", "domain": [930, 7950], "nice": false}, "axis": null},
  "y": {"field": "ly", "type": "quantitative", "scale": {"domain": [-5.144, -1.664], "nice": false, "zero": false}, "axis": null},
  "text": {"field": "z"}}}
]
}
